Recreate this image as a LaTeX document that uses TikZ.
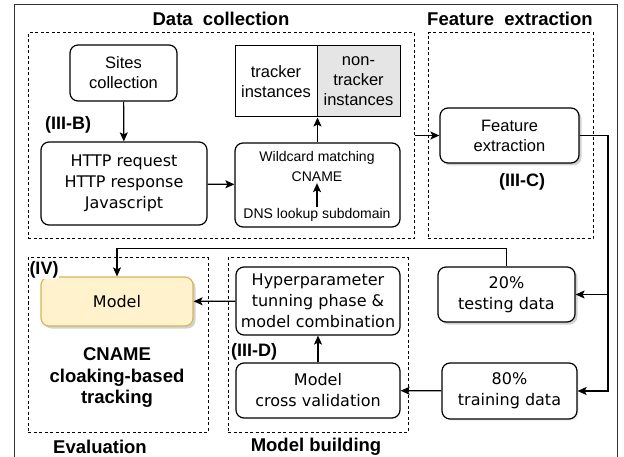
\documentclass[tikz,border=0pt]{standalone}
\usepackage{fontspec}
\setmainfont{Liberation Sans}
\newfontfamily\dejavu{DejaVu Sans}
\usetikzlibrary{arrows.meta,shadows,positioning}

\definecolor{model fill}{HTML}{FFF2CC}
\definecolor{model edge}{HTML}{D6B656}
\definecolor{split fill}{gray}{0.9}

\tikzset{
  box/.style={draw, rounded corners=8pt, line width=1.2pt, align=center, inner sep=0pt},
  arialtxt/.style={font=\fontsize{16.5}{20}\selectfont},
  djvtxt/.style={font=\dejavu\fontsize{16}{21}\selectfont},
  smalltxt/.style={font=\fontsize{14}{16}\selectfont, inner sep=1pt},
  groupbox/.style={draw, dash pattern=on 3pt off 2.5pt, line width=1pt, inner sep=0pt},
  title/.style={font=\bfseries\fontsize{18.5}{21.5}\selectfont, align=center},
  tag/.style={font=\bfseries\fontsize{18}{21}\selectfont, fill=white, inner sep=1pt},
  shade/.style={drop shadow={shadow xshift=2.5pt, shadow yshift=-2.5pt, fill=black!35}},
  arr/.style={-{Stealth[length=9pt,width=8pt,inset=2pt]}, line width=1.2pt},
}

\begin{document}
\begin{tikzpicture}[x=1pt, y=-1pt]
\useasboundingbox (0,0) rectangle (624,457);

% outer frame
\draw[line width=1pt, black!80] (14,457) -- (14,5) -- (617,5) -- (617,457);

% groups
\node[groupbox, minimum width=386pt, minimum height=206pt] (dc) at (221,136) {};
\node[groupbox, minimum width=165pt, minimum height=206pt] (fe) at (510.5,136) {};
\node[groupbox, minimum width=180pt, minimum height=174pt] (ev) at (118,345) {};
\node[groupbox, minimum width=180pt, minimum height=174pt] (mb) at (318,345) {};

\node[title] (dctitle) at (221,19) {Data\ \ collection};
\node[title] (fetitle) at (510,19) {Feature\ \ extraction};
\node[title] (evtitle) at (100,447) {Evaluation};
\node[title] (mbtitle) at (316,447) {Model building};

% data collection
\node[box, arialtxt, minimum width=107pt, minimum height=56pt] (sites) at (123.5,73) {Sites\\collection};
\node[box, djvtxt, minimum width=166pt, minimum height=83pt] (http) at (124,183.5) {HTTP request\\HTTP response\\Javascript};
\node[box, minimum width=165pt, minimum height=84pt] (wild) at (317.5,185) {};
\node[smalltxt] (match) at (317,158) {Wildcard matching};
\node[smalltxt] (cname) at (317,177) {CNAME};
\node[smalltxt] (dns) at (317,215) {DNS lookup subdomain};
\node[draw, line width=1pt, arialtxt, align=center, minimum width=82pt, minimum height=71pt] (trk) at (276,81.5) {tracker\\instances};
\node[draw, line width=1pt, fill=split fill, arialtxt, align=center, minimum width=83pt, minimum height=71pt] (non) at (358.5,81.5) {non-\\tracker\\instances};
\node[tag] (tagb) at (68,125) {(III-B)};

\draw[arr] (sites) -- (http);
\draw[arr] (http) -- (wild);
\draw[arr] (dns) -- (cname);
\draw[arr] (wild.north) -- (trk.south east);

% feature extraction
\node[box, arialtxt, shade, fill=white, minimum width=139pt, minimum height=55pt] (feat) at (509.5,135.5) {Feature\\extraction};
\node[tag] (tagc) at (522,182) {(III-C)};
\coordinate (split) at (608,135.5);

\draw[arr] (dc.east |- feat.west) -- (feat.west);

% data split
\node[box, djvtxt, shade, fill=white, minimum width=137pt, minimum height=55pt] (test) at (506.5,294.5) {20\%\\testing data};
\node[box, djvtxt, drop shadow={shadow xshift=1.5pt, shadow yshift=-1.5pt, fill=black!15}, fill=white, minimum width=135pt, minimum height=56pt] (train) at (509.5,391) {80\%\\training data};

\draw[line width=1.2pt] (feat.east) -- (split);
\draw[arr] (split) |- (train.east);
\draw[arr] (split |- test.east) -- (test.east);

% model building
\node[box, djvtxt, minimum width=164pt, minimum height=68pt] (hyper) at (318,301) {Hyperparameter\\tunning phase \&\\model combination};
\node[box, djvtxt, minimum width=164pt, minimum height=55pt] (cv) at (318,390.5) {Model\\cross validation};
\node[tag] (tagd) at (254,352) {(III-D)};

\draw[arr] (train) -- (cv);
\draw[arr] (cv) -- (hyper);

% evaluation
\node[box, djvtxt, shade, fill=model fill, draw=model edge, minimum width=152pt, minimum height=49pt] (model) at (117,301.5) {Model};
\node[tag] (tagiv) at (44,270) {(IV)};
\node[title] (track) at (117,378) {CNAME\\cloaking-based\\tracking};

\draw[arr] (hyper) -- (model);
\draw[arr] (test.north) -- ++(0,-18) -| (model.north);
\end{tikzpicture}
\end{document}
